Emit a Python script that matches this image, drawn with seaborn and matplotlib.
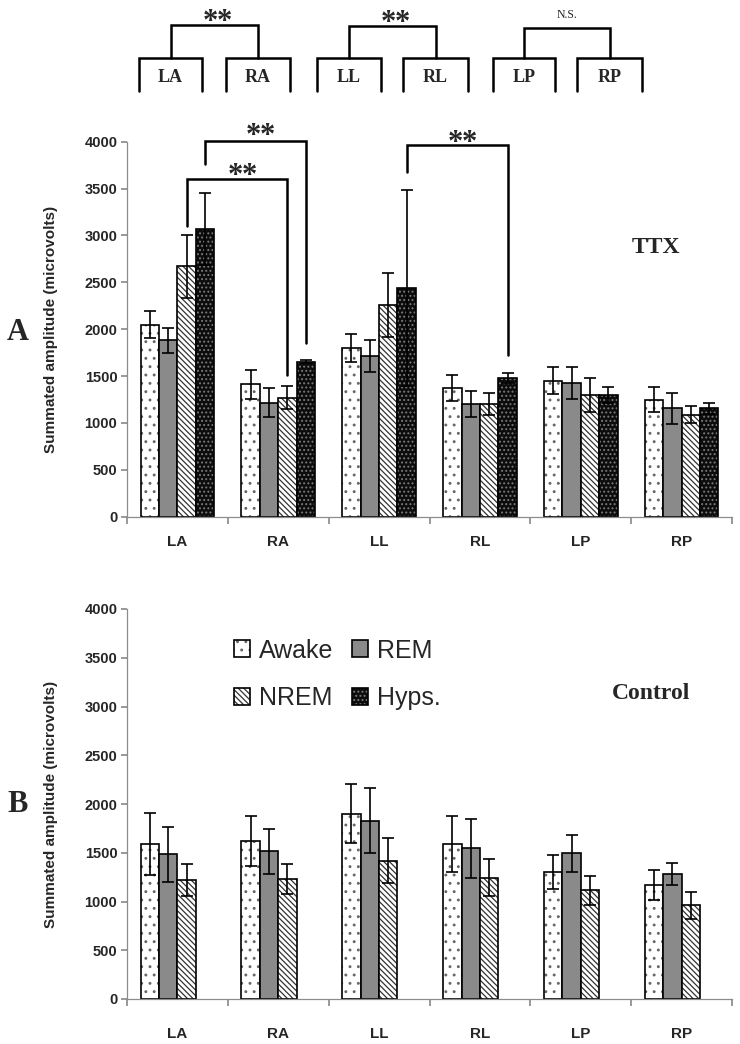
import pandas as pd
import matplotlib
matplotlib.use("Agg")
import matplotlib.pyplot as plt
import matplotlib.patches as mpatches
from matplotlib.colors import to_rgba
from matplotlib.transforms import offset_copy
import seaborn as sns

sns.set_theme(style="white")
plt.rcParams['font.family'] = ['Liberation Sans', 'DejaVu Sans']
plt.rcParams['hatch.linewidth'] = 0.9

# data
regions = ['LA', 'RA', 'LL', 'RL', 'LP', 'RP']
states = ['Awake', 'REM', 'NREM', 'Hyps.']

ttx_awake = [2050, 1415, 1800, 1375, 1450, 1250]
ttx_awake_err = [145, 155, 145, 140, 145, 135]
ttx_rem = [1880, 1215, 1710, 1200, 1425, 1155]
ttx_rem_err = [130, 155, 170, 140, 170, 165]
ttx_nrem = [2670, 1270, 2260, 1200, 1295, 1090]
ttx_nrem_err = [340, 120, 340, 120, 180, 95]
ttx_hyps = [3070, 1655, 2440, 1480, 1295, 1155]
ttx_hyps_err = [385, 15, 1050, 50, 85, 55]

ctl_awake = [1590, 1620, 1900, 1590, 1305, 1170]
ctl_awake_err = [315, 255, 305, 285, 175, 155]
ctl_rem = [1485, 1515, 1830, 1545, 1495, 1285]
ctl_rem_err = [280, 230, 330, 300, 190, 115]
ctl_nrem = [1220, 1230, 1420, 1245, 1115, 960]
ctl_nrem_err = [160, 150, 235, 190, 150, 135]


def long_table(series):
    rows = []
    for state, (vals, errs) in series.items():
        for reg, v, e in zip(regions, vals, errs):
            rows.append({'region': reg, 'state': state, 'amp': v, 'err': e})
    return pd.DataFrame(rows)


ttx = long_table({'Awake': (ttx_awake, ttx_awake_err), 'REM': (ttx_rem, ttx_rem_err),
                  'NREM': (ttx_nrem, ttx_nrem_err), 'Hyps.': (ttx_hyps, ttx_hyps_err)})
ctl = long_table({'Awake': (ctl_awake, ctl_awake_err), 'REM': (ctl_rem, ctl_rem_err),
                  'NREM': (ctl_nrem, ctl_nrem_err)})

# bar looks (face, hatch, hatch colour)
looks = {
    'Awake': ('white', '..', '#666666'),
    'REM': ('#8a8a8a', '', 'black'),
    'NREM': ('white', '\\\\\\\\\\\\', '#333333'),
    'Hyps.': ('#0c0c0c', '....', '#7a7a7a'),
}


def style_patch(p, state):
    face, hatch, hc = looks[state]
    p.set_facecolor(face)
    p.set_edgecolor('black')
    p.set_linewidth(1.2)
    p.set_hatch(hatch)
    p._hatch_color = to_rgba(hc)


def draw_panel(ax, df, xpad):
    sns.barplot(data=df, x='region', y='amp', hue='state', order=regions, hue_order=states,
                width=0.73, errorbar=None, legend=False, ax=ax,
                palette={s: looks[s][0] for s in states})
    centers = {}
    present = [s for s in states if s in set(df['state'])]
    for state, cont in zip(present, ax.containers):
        sub = df[df['state'] == state].set_index('region').loc[regions]
        xs, ys = [], []
        for reg, p in zip(regions, cont.patches):
            style_patch(p, state)
            x = p.get_x() + p.get_width() / 2
            centers[(reg, state)] = x
            xs.append(x)
            ys.append(p.get_height())
        ax.errorbar(xs, ys, yerr=sub['err'].values, fmt='none', ecolor='black',
                    elinewidth=1.2, capsize=4, capthick=1.2, zorder=5)

    ax.set_xlim(-0.5, 5.5)
    ax.set_ylim(0, 4000)
    ax.set_yticks(range(0, 4001, 500))
    ax.set_xticks([i - 0.5 for i in range(7)])
    ax.set_xticklabels([])
    ax.set_xticks(range(6), minor=True)
    ax.set_xticklabels(regions, minor=True, fontsize=11, fontweight='bold')
    ax.tick_params(axis='x', which='major', length=5, color='#8c8c8c', direction='out', bottom=True)
    ax.tick_params(axis='x', which='minor', length=0, pad=xpad, bottom=True)
    ax.tick_params(axis='y', length=4, color='#8c8c8c', direction='out', left=True, pad=3,
                   labelsize=10.5)
    for lab in ax.get_yticklabels():
        lab.set_fontweight('bold')
    for side in ['top', 'right']:
        ax.spines[side].set_visible(False)
    for side in ['left', 'bottom']:
        ax.spines[side].set_color('#8c8c8c')
        ax.spines[side].set_linewidth(0.9)
    ax.set_xlabel('')
    ax.set_ylabel('Summated amplitude (microvolts)', fontsize=11, fontweight='bold')
    ax.yaxis.set_label_coords(-0.114, 0.5)
    return centers


fig = plt.figure(figsize=(7.4, 10.44), dpi=100)
axA = fig.add_axes([127 / 740, 1 - 516.7 / 1044, 605 / 740, 375 / 1044])
axB = fig.add_axes([127 / 740, 1 - 999 / 1044, 605 / 740, 390 / 1044])

cA = draw_panel(axA, ttx, 13)
cB = draw_panel(axB, ctl, 20)

star_size = 22
star_lift = 0.56 * star_size * 100 / 72  # glyph centre above baseline, in pixels


def two_stars(ax, x, y):
    # two asterisks centred on (x, y), a little apart
    for dx in (-7, 7):
        tr = offset_copy(ax.transData, fig=fig, x=dx, y=-star_lift, units='dots')
        ax.text(x, y, '*', transform=tr, ha='center', va='baseline', fontsize=star_size,
                fontweight='bold', family='Liberation Serif', clip_on=False)


# significance brackets in panel A (last value = centre of the stars)
sig_a = [
    (('LA', 'NREM'), ('RA', 'NREM'), 3100, 1510, 3600, 3730),
    (('LA', 'Hyps.'), ('RA', 'Hyps.'), 3760, 1850, 4010, 4157),
    (('LL', 'Hyps.'), ('RL', 'Hyps.'), 3680, 1725, 3965, 4080),
]
for k1, k2, y1, y2, top, star_y in sig_a:
    x1, x2 = cA[k1], cA[k2]
    axA.plot([x1, x1, x2, x2], [y1, top, top, y2], color='black', lw=1.8,
             clip_on=False, zorder=6, solid_joinstyle='miter')
    two_stars(axA, (x1 + x2) / 2 + 0.05, star_y)

axA.text(4.75, 2870, 'TTX', ha='center', va='center', fontsize=17, fontweight='bold',
         family='Liberation Serif')
axB.text(4.7, 3130, 'Control', ha='center', va='center', fontsize=17, fontweight='bold',
         family='Liberation Serif')

# legend in panel B
handles = []
for s in ['Awake', 'NREM', 'REM', 'Hyps.']:
    h = mpatches.Patch(label=s)
    style_patch(h, s)
    handles.append(h)
axB.legend(handles=handles, ncol=2, loc='upper left', bbox_to_anchor=(0.16, 0.95),
           frameon=False, fontsize=18, handlelength=0.65, handleheight=0.65,
           handletextpad=0.35, columnspacing=0.75, labelspacing=0.95, borderaxespad=0)

# overlay in pixel coordinates for the region schematic and panel letters
ov = fig.add_axes([0, 0, 1, 1], facecolor='none')
ov.set_xlim(0, 740)
ov.set_ylim(1044, 0)
ov.axis('off')

schem = [
    ('LA', 139, 202, 'RA', 226, 290, 25, '**'),
    ('LL', 317, 381, 'RL', 403, 468, 26, '**'),
    ('LP', 493, 555, 'RP', 577, 642, 28, 'N.S.'),
]
box_top, box_bot = 57.5, 91
for la, l0, l1, ra, r0, r1, top, mark in schem:
    for lab, a, b in [(la, l0, l1), (ra, r0, r1)]:
        ov.plot([a, a, b, b], [box_bot, box_top, box_top, box_bot], color='black', lw=1.8,
                solid_joinstyle='miter')
        ov.text((a + b) / 2, 77, lab, ha='center', va='center', fontsize=13,
                fontweight='bold', family='Liberation Serif')
    c1, c2 = (l0 + l1) / 2, (r0 + r1) / 2
    ov.plot([c1, c1, c2, c2], [box_top, top, top, box_top], color='black', lw=1.8,
            solid_joinstyle='miter')
    if mark == '**':
        two_stars(ov, (c1 + c2) / 2 + 3, top - 12)
    else:
        ov.text((c1 + c2) / 2, top - 13, mark, ha='center', va='center', fontsize=8.5,
                family='Liberation Serif')

ov.text(17.5, 332, 'A', ha='center', va='center', fontsize=22, fontweight='bold',
        family='Liberation Serif')
ov.text(17.5, 805, 'B', ha='center', va='center', fontsize=22, fontweight='bold',
        family='Liberation Serif')

fig.savefig('out.png', dpi=100)
